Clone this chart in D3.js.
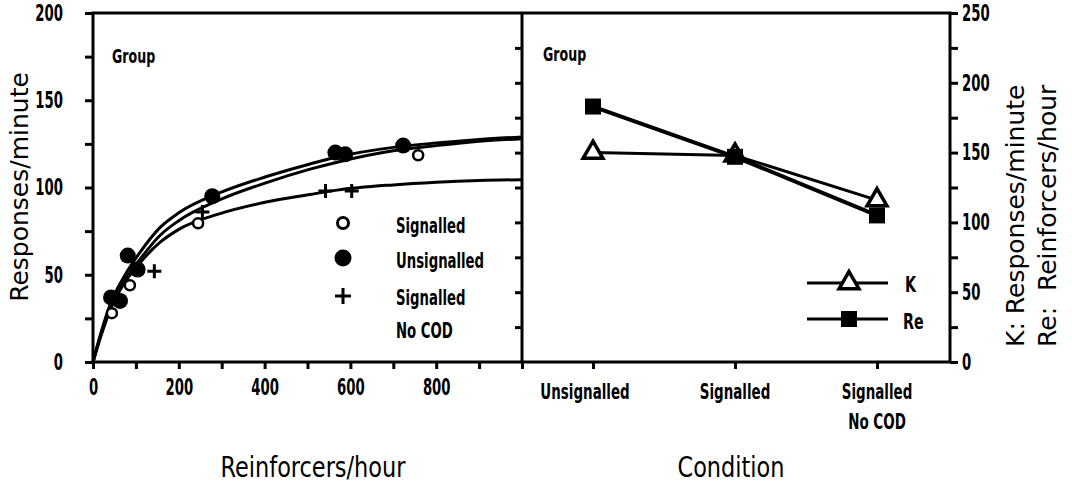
<!DOCTYPE html>
<html>
<head>
<meta charset="utf-8">
<script src="https://cdn.jsdelivr.net/npm/d3@7"></script>
<style>
  body { margin: 0; background: #fff; }
  svg { display: block; }
  .narrow { font-family: "Liberation Sans Narrow", "DejaVu Sans Condensed", "DejaVu Sans", sans-serif; font-stretch: condensed; }
  .wide { font-family: "DejaVu Sans", sans-serif; }
</style>
</head>
<body>
<svg id="chart" width="1072" height="483"></svg>
<script>
// left panel: fitted curves (reinforcers/hour -> responses/minute)
const curveR = [0, 20, 40, 75, 110, 156, 200, 296, 401, 506, 569, 700, 800, 900, 1000];
const curveSignalled = [0, 18, 33, 50, 63, 77, 85.5, 97, 106, 113.5, 117.5, 123, 125.5, 127.5, 129];
const curveUnsignalled = [0, 16, 30, 47, 59, 72.5, 81, 93, 102.5, 110.5, 114.5, 121, 124, 126.5, 128];
const curveNoCOD = [0, 17, 30, 46, 57, 68.5, 76, 85, 91.5, 96, 98.5, 101.5, 103, 104, 104.5];

// left panel: data points
const unsigR = [42, 63, 81, 104, 278, 565, 588, 723];
const unsigV = [37, 35, 61, 53, 95, 120, 119, 124];
const sigR = [44, 86, 245, 758];
const sigV = [28, 44, 79.5, 118.5];
const nocodR = [143, 255, 542, 603];
const nocodV = [52, 86, 98, 98];

// right panel
const conditions = ["Unsignalled", "Signalled", "Signalled|No COD"];
const kValues = [150, 148, 116];
const reValues = [183, 147, 105];

const leftTicks = [0, 50, 100, 150, 200];
const xTicks = [0, 200, 400, 600, 800];
const rightTicks = [0, 50, 100, 150, 200, 250];

const svg = d3.select("#chart");
const yTop = 13, yBottom = 362, xLeft = 93, xMid = 522, xRight = 950;

const x = d3.scaleLinear().domain([0, 1000]).range([xLeft, xMid]);
const y = d3.scaleLinear().domain([0, 200]).range([yBottom, yTop]);
const xc = d3.scalePoint().domain(conditions).range([593, 877]);
const y2 = d3.scaleLinear().domain([0, 250]).range([yBottom, yTop]);

const black = "#000";

// the original lettering is much narrower than any installed face: squeeze it
function squeeze(sel, sx) {
    sel.each(function () {
        const t = d3.select(this);
        const tx = +t.attr("x") || 0, ty = +t.attr("y") || 0;
        const old = t.attr("transform") || "";
        t.attr("x", null).attr("y", null)
            .attr("transform", `${old} translate(${tx},${ty}) scale(${sx},1)`);
    });
    return sel;
}

// frame
svg.append("rect")
    .attr("x", xLeft).attr("y", yTop)
    .attr("width", xRight - xLeft).attr("height", yBottom - yTop)
    .attr("fill", "none").attr("stroke", black).attr("stroke-width", 3);
svg.append("line")
    .attr("x1", xMid).attr("x2", xMid).attr("y1", yTop).attr("y2", yBottom)
    .attr("stroke", black).attr("stroke-width", 3);

// left y axis
const yAxis = svg.append("g")
    .attr("transform", `translate(${xLeft},0)`)
    .call(d3.axisLeft(y).tickValues(d3.range(0, 201, 25)).tickSize(8).tickPadding(22)
        .tickFormat(d => leftTicks.includes(d) ? d : ""));

// bottom x axis of left panel
const xAxis = svg.append("g")
    .attr("transform", `translate(0,${yBottom})`)
    .call(d3.axisBottom(x).tickValues(d3.range(0, 1001, 100)).tickSize(7).tickPadding(8)
        .tickFormat(d => xTicks.includes(d) ? d : ""));

// right y axis
const y2Axis = svg.append("g")
    .attr("transform", `translate(${xRight},0)`)
    .call(d3.axisRight(y2).tickValues(d3.range(0, 251, 25)).tickSize(8).tickPadding(4)
        .tickFormat(d => rightTicks.includes(d) ? d : ""));

// ticks on the divider (right-hand scale), pointing into the left panel
svg.append("g")
    .attr("transform", `translate(${xMid},0)`)
    .call(d3.axisLeft(y2).tickValues(d3.range(25, 250, 25)).tickSize(7).tickFormat(""));

// right panel bottom axis
const xcAxis = svg.append("g")
    .attr("transform", `translate(0,${yBottom})`)
    .call(d3.axisBottom(xc).tickSize(7).tickFormat(""));

svg.selectAll("g").select(".domain").remove();
svg.selectAll(".tick line").attr("stroke", black).attr("stroke-width", 3);
svg.selectAll("g").filter(function () { return this.getAttribute("fill") === "none"; })
    .attr("font-family", null).attr("font-size", null);
svg.selectAll(".tick text")
    .attr("class", "narrow")
    .attr("font-size", 23)
    .attr("font-weight", "bold")
    .attr("fill", black);
xAxis.selectAll(".tick text").attr("dy", "0.8em");
squeeze(svg.selectAll(".tick text"), 0.64);

// condition labels
conditions.forEach(c => {
    const lines = c.split("|");
    lines.forEach((t, i) => {
        squeeze(svg.append("text")
            .attr("class", "narrow")
            .attr("x", xc(c) + (c === "Unsignalled" ? -8 : 0))
            .attr("y", 399 + i * 30)
            .attr("text-anchor", "middle")
            .attr("font-size", 22).attr("font-weight", "bold")
            .text(t), 0.68);
    });
});

// curves
const line = d3.line()
    .x((d, i) => x(curveR[i]))
    .y(d => y(d))
    .curve(d3.curveMonotoneX);
[curveSignalled, curveUnsignalled, curveNoCOD].forEach(c => {
    svg.append("path")
        .attr("d", line(c))
        .attr("fill", "none").attr("stroke", black).attr("stroke-width", 3);
});

// points
const plus = (g, cx, cy, s) => {
    g.append("path")
        .attr("d", `M${cx - s},${cy}H${cx + s}M${cx},${cy - s}V${cy + s}`)
        .attr("stroke", black).attr("stroke-width", 3).attr("fill", "none");
};
unsigR.forEach((r, i) => {
    svg.append("circle").attr("cx", x(r)).attr("cy", y(unsigV[i])).attr("r", 8).attr("fill", black);
});
sigR.forEach((r, i) => {
    svg.append("circle").attr("cx", x(r)).attr("cy", y(sigV[i])).attr("r", 5)
        .attr("fill", "#fff").attr("stroke", black).attr("stroke-width", 2.5);
});
nocodR.forEach((r, i) => plus(svg, x(r), y(nocodV[i]), 7));

// left legend
const lg = svg.append("g");
lg.append("circle").attr("cx", 343).attr("cy", 223).attr("r", 5.5)
    .attr("fill", "#fff").attr("stroke", black).attr("stroke-width", 3);
lg.append("circle").attr("cx", 343).attr("cy", 258).attr("r", 8.5).attr("fill", black);
plus(lg, 343, 296, 8);
[["Signalled", 233], ["Unsignalled", 268], ["Signalled", 305], ["No COD", 338]].forEach(([t, ty]) => {
    squeeze(lg.append("text").attr("class", "narrow").attr("x", 396).attr("y", ty)
        .attr("font-size", 22).attr("font-weight", "bold").text(t), 0.67);
});

// "Group" labels
[[112, 63], [543, 61]].forEach(([gx, gy]) => {
    squeeze(svg.append("text").attr("class", "narrow").attr("x", gx).attr("y", gy)
        .attr("font-size", 20).attr("font-weight", "bold").text("Group"), 0.7);
});

// right panel lines + markers
const cline = d3.line().x((d, i) => xc(conditions[i])).y(d => y2(d));
svg.append("path").attr("d", cline(kValues))
    .attr("fill", "none").attr("stroke", black).attr("stroke-width", 3);
svg.append("path").attr("d", cline(reValues))
    .attr("fill", "none").attr("stroke", black).attr("stroke-width", 4);

const tri = d3.symbol(d3.symbolTriangle, 170);
const triangle = (cx, cy) => svg.append("path")
    .attr("d", tri()).attr("transform", `translate(${cx},${cy})`)
    .attr("fill", "#fff").attr("stroke", black).attr("stroke-width", 3.5);
const square = (cx, cy) => svg.append("rect")
    .attr("x", cx - 8).attr("y", cy - 8).attr("width", 16).attr("height", 16).attr("fill", black);

kValues.forEach((v, i) => triangle(xc(conditions[i]), y2(v)));
reValues.forEach((v, i) => square(xc(conditions[i]), y2(v)));

// right legend
svg.append("line").attr("x1", 807).attr("x2", 888).attr("y1", 283).attr("y2", 283)
    .attr("stroke", black).attr("stroke-width", 3);
triangle(849, 283);
svg.append("line").attr("x1", 807).attr("x2", 888).attr("y1", 319).attr("y2", 319)
    .attr("stroke", black).attr("stroke-width", 3);
square(849, 319);
squeeze(svg.append("text").attr("class", "narrow").attr("x", 905).attr("y", 292)
    .attr("font-size", 22).attr("font-weight", "bold").text("K"), 0.72);
squeeze(svg.append("text").attr("class", "narrow").attr("x", 903).attr("y", 329)
    .attr("font-size", 22).attr("font-weight", "bold").text("Re"), 0.72);

// axis titles
squeeze(svg.append("text").attr("class", "narrow")
    .attr("x", 313).attr("y", 477).attr("text-anchor", "middle")
    .attr("font-size", 29).text("Reinforcers/hour"), 0.86);
squeeze(svg.append("text").attr("class", "narrow")
    .attr("x", 731).attr("y", 477).attr("text-anchor", "middle")
    .attr("font-size", 29).text("Condition"), 0.86);
svg.append("text").attr("class", "wide")
    .attr("transform", "translate(28,187) rotate(-90)")
    .attr("text-anchor", "middle").attr("font-size", 25).text("Responses/minute");
svg.append("text").attr("class", "wide")
    .attr("transform", "translate(1024,347) rotate(-90)")
    .attr("font-size", 25).text("K: Responses/minute");
svg.append("text").attr("class", "wide")
    .attr("transform", "translate(1056,347) rotate(-90)")
    .attr("font-size", 25).attr("xml:space", "preserve").text("Re:  Reinforcers/hour");
</script>
</body>
</html>
